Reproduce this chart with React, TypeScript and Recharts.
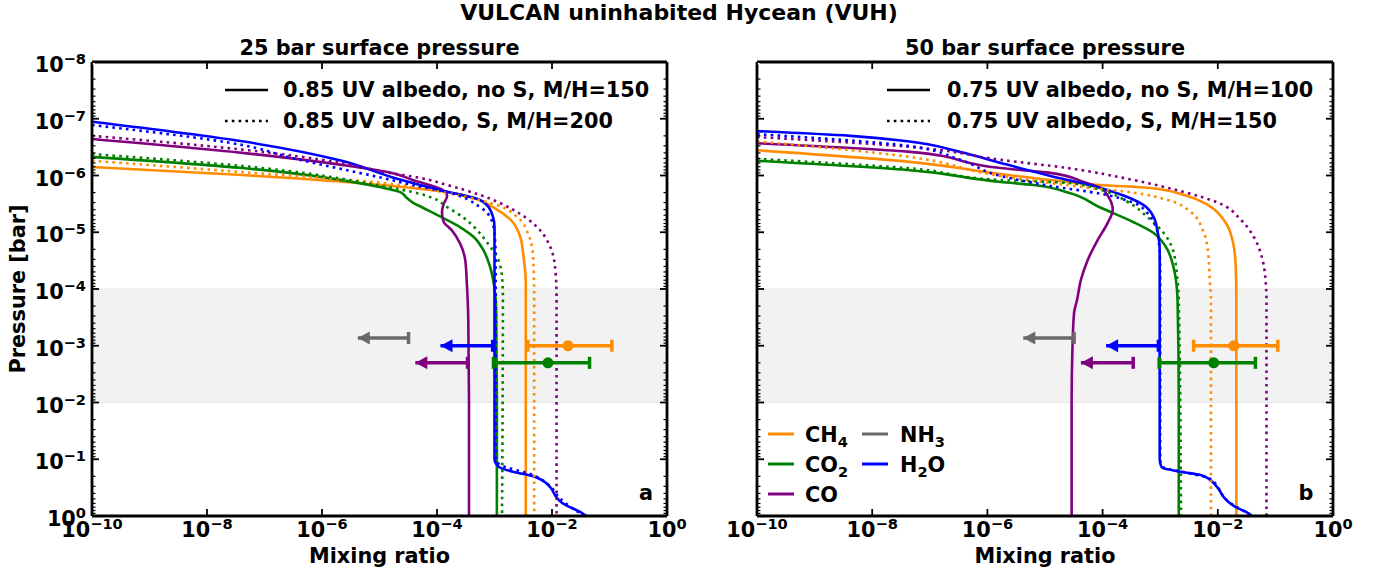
import React from 'react';
import { ComposedChart, Line, XAxis, YAxis, ReferenceArea } from 'recharts';

// each profile point is [mixing ratio, pressure in bar]
type Pt = [number, number];

const FONT = '"DejaVu Sans", sans-serif';
const ORANGE = '#ff8c00';
const GREEN = '#008000';
const PURPLE = '#800080';
const BLUE = '#0000ff';
const GRAY = '#696969';

const X_DOMAIN = [1e-10, 1];
const Y_DOMAIN = [1e-8, 1];
const X_TICKS = [1e-10, 1e-8, 1e-6, 1e-4, 1e-2, 1];
const Y_DECADES = [1e-8, 1e-7, 1e-6, 1e-5, 1e-4, 1e-3, 1e-2, 1e-1, 1];
const MINOR_STEPS = [2, 3, 4, 5, 6, 7, 8, 9];
const BAND = [1e-4, 1e-2];

// 25 bar surface: solid = 0.85 UV albedo, no S, M/H=150; dotted = with S, M/H=200
const CH4_25_NOS: Pt[] = [[1e-10, 7.1e-7], [4.1e-8, 9.8e-7], [1.1e-5, 1.47e-6], [3.8e-5, 1.66e-6], [1.5e-4, 1.96e-6], [4.3e-4, 2.5e-6], [9.4e-4, 3.6e-6], [1.9e-3, 6.0e-6], [2.8e-3, 1.2e-5], [3.2e-3, 2.7e-5], [3.5e-3, 7.8e-5], [3.5e-3, 1]];
const CH4_25_S: Pt[] = [[1e-10, 5.5e-7], [4.1e-8, 8.7e-7], [1.1e-5, 1.35e-6], [5.7e-5, 1.7e-6], [3.3e-4, 2.4e-6], [1.1e-3, 3.3e-6], [2.5e-3, 5.4e-6], [3.8e-3, 1.03e-5], [4.7e-3, 2.7e-5], [4.9e-3, 1.4e-4], [4.9e-3, 1]];
const CO2_25_NOS: Pt[] = [[1e-10, 4.7e-7], [4.1e-8, 7.4e-7], [1.0e-5, 1.6e-6], [2.3e-5, 1.96e-6], [3.0e-5, 2.5e-6], [3.8e-5, 3.0e-6], [5.7e-5, 3.7e-6], [1.27e-4, 5.6e-6], [2.5e-4, 8.1e-6], [4.3e-4, 1.2e-5], [6.3e-4, 2.0e-5], [8.4e-4, 4.1e-5], [9.8e-4, 8.5e-5], [1.07e-3, 2.3e-4], [1.1e-3, 9.1e-3], [1.1e-3, 1]];
const CO2_25_S: Pt[] = [[1e-10, 4.2e-7], [4.1e-8, 6.8e-7], [1.0e-5, 1.5e-6], [5.0e-5, 2.1e-6], [8.5e-5, 2.5e-6], [1.5e-4, 3.6e-6], [2.8e-4, 5.4e-6], [5.0e-4, 9.2e-6], [7.4e-4, 1.5e-5], [1.1e-3, 2.7e-5], [1.35e-3, 6.1e-5], [1.4e-3, 1.4e-4], [1.35e-3, 1]];
const CO_25_NOS: Pt[] = [[1e-10, 2.28e-7], [4.1e-8, 4.0e-7], [2.2e-6, 6.5e-7], [1.65e-5, 9.0e-7], [3.8e-5, 1.2e-6], [1.27e-4, 1.8e-6], [1.5e-4, 2.3e-6], [1.3e-4, 3.2e-6], [1.22e-4, 4.5e-6], [1.3e-4, 6.5e-6], [1.8e-4, 9.2e-6], [2.5e-4, 1.55e-5], [3.1e-4, 3.1e-5], [3.3e-4, 7.8e-5], [3.5e-4, 3.5e-4], [3.6e-4, 9.1e-3], [3.6e-4, 1]];
const CO_25_S: Pt[] = [[1e-10, 2.0e-7], [4.1e-8, 3.5e-7], [2.2e-6, 6.0e-7], [1.5e-5, 9.0e-7], [5.0e-5, 1.1e-6], [1.5e-4, 1.47e-6], [5.6e-4, 2.2e-6], [2.1e-3, 4.0e-6], [5.5e-3, 8.1e-6], [9.3e-3, 1.8e-5], [1.13e-2, 4.1e-5], [1.2e-2, 1.4e-4], [1.2e-2, 1]];
const H2O_25_NOS: Pt[] = [[1e-10, 1.13e-7], [4.1e-8, 2.5e-7], [2.2e-6, 5.5e-7], [1.65e-5, 1.07e-6], [1.12e-4, 1.8e-6], [5.6e-4, 2.7e-6], [8.4e-4, 4.0e-6], [1.0e-3, 8.1e-6], [1.0e-3, 2.0e-5], [1.0e-3, 0.1], [1.05e-3, 0.117], [1.25e-3, 0.14], [2.1e-3, 0.166], [4.7e-3, 0.2], [9.3e-3, 0.31], [1.13e-2, 0.43], [1.5e-2, 0.59], [2.0e-2, 0.69], [3.1e-2, 0.85], [3.7e-2, 0.96], [4.0e-2, 1]];
const H2O_25_S: Pt[] = [[1e-10, 1.29e-7], [4.1e-8, 2.9e-7], [3.0e-7, 4.9e-7], [1.1e-5, 1.1e-6], [3.8e-5, 1.47e-6], [1.5e-4, 1.96e-6], [5.6e-4, 3.6e-6], [8.4e-4, 5.4e-6], [1.0e-3, 1.03e-5], [1.05e-3, 3.1e-5], [1.05e-3, 0.1], [1.25e-3, 0.125], [4.7e-3, 0.19], [9.3e-3, 0.3], [1.4e-2, 0.5], [2.1e-2, 0.69], [3.7e-2, 1]];

// 50 bar surface: solid = 0.75 UV albedo, no S, M/H=100; dotted = with S, M/H=150
const CH4_50_NOS: Pt[] = [[1e-10, 3.6e-7], [4.1e-8, 5.7e-7], [1.7e-6, 9.4e-7], [2.5e-5, 1.3e-6], [9.3e-5, 1.47e-6], [6.8e-4, 1.66e-6], [2.6e-3, 2.2e-6], [6.7e-3, 3.3e-6], [1.26e-2, 6.0e-6], [1.8e-2, 1.37e-5], [2.05e-2, 4.1e-5], [2.1e-2, 1.56e-4], [2.1e-2, 1]];
const CH4_50_S: Pt[] = [[1e-10, 2.5e-7], [4.1e-8, 4.65e-7], [1.7e-6, 1.02e-6], [4.7e-5, 1.6e-6], [3.4e-4, 2.0e-6], [1.35e-3, 2.7e-6], [3.4e-3, 4.4e-6], [5.5e-3, 9.2e-6], [6.7e-3, 2.0e-5], [7.3e-3, 7.8e-5], [7.6e-3, 1.56e-4], [7.6e-3, 1]];
const CO2_50_NOS: Pt[] = [[1e-10, 5.5e-7], [4.1e-8, 8.0e-7], [1.7e-6, 1.3e-6], [6.3e-6, 1.47e-6], [2.5e-5, 2.0e-6], [9.3e-5, 3.7e-6], [3.4e-4, 6.6e-6], [7.7e-4, 1.03e-5], [1.25e-3, 1.8e-5], [1.7e-3, 4.1e-5], [2.0e-3, 1.56e-4], [2.1e-3, 9.1e-3], [2.1e-3, 1]];
const CO2_50_S: Pt[] = [[1e-10, 5.1e-7], [4.1e-8, 7.4e-7], [1.7e-6, 1.2e-6], [2.5e-5, 1.35e-6], [9.3e-5, 1.8e-6], [2.7e-4, 2.9e-6], [6.0e-4, 5.4e-6], [1.15e-3, 1.03e-5], [1.65e-3, 2.0e-5], [1.94e-3, 5.2e-5], [2.1e-3, 1.56e-4], [2.3e-3, 1]];
const CO_50_NOS: Pt[] = [[1e-10, 2.7e-7], [4.1e-8, 3.8e-7], [1.7e-6, 7.4e-7], [1.25e-5, 9.0e-7], [4.7e-5, 1.3e-6], [9.3e-5, 1.66e-6], [1.27e-4, 2.4e-6], [1.5e-4, 4.0e-6], [1.22e-4, 6.9e-6], [8.2e-5, 1.37e-5], [5.5e-5, 3.1e-5], [4.2e-5, 6.9e-5], [3.6e-5, 1.56e-4], [3.2e-5, 2.6e-4], [3.0e-5, 1.05e-3], [2.9e-5, 9.1e-3], [2.9e-5, 1]];
const CO_50_S: Pt[] = [[1e-10, 2.1e-7], [4.1e-8, 3.1e-7], [1.7e-6, 5.3e-7], [2.5e-5, 7.4e-7], [3.4e-4, 1.2e-6], [2.6e-3, 1.96e-6], [1.0e-2, 3.0e-6], [2.5e-2, 6.0e-6], [4.2e-2, 1.2e-5], [6.0e-2, 3.1e-5], [6.8e-2, 7.8e-5], [7.0e-2, 1.56e-4], [7.0e-2, 1]];
const H2O_50_NOS: Pt[] = [[1e-10, 1.65e-7], [4.2e-9, 2.0e-7], [4.1e-8, 2.5e-7], [3.4e-7, 3.85e-7], [1.7e-6, 6.0e-7], [1.25e-5, 1.02e-6], [9.3e-5, 1.66e-6], [2.7e-4, 2.4e-6], [5.1e-4, 3.3e-6], [7.7e-4, 5.4e-6], [9.1e-4, 1.03e-5], [9.8e-4, 2.0e-5], [9.8e-4, 0.1], [1.0e-3, 0.117], [1.07e-3, 0.14], [2.3e-3, 0.166], [5.0e-3, 0.19], [7.3e-3, 0.23], [1.0e-2, 0.32], [1.3e-2, 0.48], [2.0e-2, 0.69], [3.1e-2, 0.85], [3.9e-2, 1]];
const H2O_50_S: Pt[] = [[1e-10, 1.87e-7], [4.1e-8, 3.0e-7], [3.4e-7, 5.3e-7], [1.7e-6, 1.02e-6], [1.25e-5, 1.53e-6], [9.3e-5, 2.1e-6], [3.4e-4, 3.0e-6], [6.0e-4, 4.6e-6], [7.7e-4, 6.6e-6], [9.4e-4, 1.37e-5], [1.0e-3, 4.7e-5], [1.0e-3, 0.1], [1.1e-3, 0.135], [3.4e-3, 0.18], [7.3e-3, 0.22], [1.04e-2, 0.33], [1.35e-2, 0.5], [2.1e-2, 0.69], [3.3e-2, 0.89], [4.0e-2, 1]];

// retrievals: [low, median, high] mixing ratio, and upper limits: [limit, arrow end]
const CH4_OBS = [3.8e-3, 1.9e-2, 0.11];
const CO2_OBS = [9.6e-4, 8.5e-3, 4.5e-2];
const NH3_LIM = [3.2e-5, 4.2e-6];
const H2O_LIM = [9.3e-4, 1.15e-4];
const CO_LIM = [3.4e-4, 4.2e-5];
const P_NH3 = 7.3e-4;
const P_CH4_H2O = 1.0e-3;
const P_CO2_CO = 2.0e-3;

const rows = (pts: Pt[]) => pts.map(([x, p]) => ({ x, p }));

const Y_TICKS = Y_DECADES.flatMap((d) => (d >= 1 ? [d] : [d, ...MINOR_STEPS.map((m) => d * m)]));

const isDecade = (v: number) => Math.abs(Math.log10(v) - Math.round(Math.log10(v))) < 1e-6;

function PowTen({ x, y, exp, anchor }: { x: number; y: number; exp: number; anchor: 'start' | 'middle' | 'end' }) {
  return (
    <text x={x} y={y} textAnchor={anchor} fontFamily={FONT} fontWeight="bold" fontSize={20.8} fill="#000">
      <tspan>10</tspan>
      <tspan dy={-8} fontSize={14.6}>{exp < 0 ? `\u2212${-exp}` : `${exp}`}</tspan>
    </text>
  );
}

const xTick = (side: 'top' | 'bottom') => (props: any) => {
  const { x, y, payload } = props;
  const dir = side === 'bottom' ? -1 : 1;
  return (
    <g>
      <line x1={x} x2={x} y1={y} y2={y + dir * 7} stroke="#000" strokeWidth={1.8} />
      {side === 'bottom' && <PowTen x={x} y={y + 21} exp={Math.round(Math.log10(payload.value))} anchor="middle" />}
    </g>
  );
};

const yTick = (side: 'left' | 'right', labels: boolean) => (props: any) => {
  const { x, y, payload } = props;
  const major = isDecade(payload.value);
  const dir = side === 'left' ? 1 : -1;
  return (
    <g>
      <line x1={x} x2={x + dir * (major ? 7 : 3.5)} y1={y} y2={y} stroke="#000" strokeWidth={major ? 1.8 : 1.2} />
      {labels && major && <PowTen x={x - 6} y={y + 10} exp={Math.round(Math.log10(payload.value))} anchor="end" />}
    </g>
  );
};

// upper limit: bar cap at the limit, arrowhead at the far end
const limitDot = (color: string) => (props: any) => {
  const { cx, cy, index } = props;
  if (index === 0) {
    return <line key={`cap-${index}`} x1={cx} x2={cx} y1={cy - 6} y2={cy + 6} stroke={color} strokeWidth={3.5} />;
  }
  return <path key={`head-${index}`} d={`M${cx},${cy} L${cx + 12},${cy - 6.5} L${cx + 12},${cy + 6.5} Z`} fill={color} />;
};

// measured value with caps at both ends and a marker at the median
const errDot = (color: string) => (props: any) => {
  const { cx, cy, index } = props;
  if (index === 1) return <circle key={`mid-${index}`} cx={cx} cy={cy} r={5.5} fill={color} />;
  return <line key={`cap-${index}`} x1={cx} x2={cx} y1={cy - 6} y2={cy + 6} stroke={color} strokeWidth={3.5} />;
};

type Profile = { key: string; color: string; dotted: boolean; pts: Pt[] };

const PANEL_25: Profile[] = [
  { key: 'ch4', color: ORANGE, dotted: false, pts: CH4_25_NOS },
  { key: 'co2', color: GREEN, dotted: false, pts: CO2_25_NOS },
  { key: 'co', color: PURPLE, dotted: false, pts: CO_25_NOS },
  { key: 'h2o', color: BLUE, dotted: false, pts: H2O_25_NOS },
  { key: 'ch4s', color: ORANGE, dotted: true, pts: CH4_25_S },
  { key: 'co2s', color: GREEN, dotted: true, pts: CO2_25_S },
  { key: 'cos', color: PURPLE, dotted: true, pts: CO_25_S },
  { key: 'h2os', color: BLUE, dotted: true, pts: H2O_25_S },
];

const PANEL_50: Profile[] = [
  { key: 'ch4', color: ORANGE, dotted: false, pts: CH4_50_NOS },
  { key: 'co2', color: GREEN, dotted: false, pts: CO2_50_NOS },
  { key: 'co', color: PURPLE, dotted: false, pts: CO_50_NOS },
  { key: 'h2o', color: BLUE, dotted: false, pts: H2O_50_NOS },
  { key: 'ch4s', color: ORANGE, dotted: true, pts: CH4_50_S },
  { key: 'co2s', color: GREEN, dotted: true, pts: CO2_50_S },
  { key: 'cos', color: PURPLE, dotted: true, pts: CO_50_S },
  { key: 'h2os', color: BLUE, dotted: true, pts: H2O_50_S },
];

const FRAME = { stroke: '#000', strokeWidth: 2.8 };

// axes are 1px thick so recharts still draws them; margins absorb that pixel
function ProfilePanel({ profiles, margin, yLabels }: { profiles: Profile[]; margin: any; yLabels: boolean }) {
  const limits = [
    { key: 'nh3', color: GRAY, lim: NH3_LIM, p: P_NH3 },
    { key: 'h2o', color: BLUE, lim: H2O_LIM, p: P_CH4_H2O },
    { key: 'co', color: PURPLE, lim: CO_LIM, p: P_CO2_CO },
  ];
  const measured = [
    { key: 'ch4', color: ORANGE, obs: CH4_OBS, p: P_CH4_H2O },
    { key: 'co2', color: GREEN, obs: CO2_OBS, p: P_CO2_CO },
  ];
  return (
    <ComposedChart width={690} height={574} margin={margin}>
      <ReferenceArea y1={BAND[0]} y2={BAND[1]} fill="#f2f2f2" fillOpacity={1} stroke="#e6e6e6" strokeWidth={1} />
      <XAxis dataKey="x" type="number" scale="log" domain={X_DOMAIN} allowDataOverflow ticks={X_TICKS} interval={0}
        height={1} tickSize={0} tickMargin={0} tickLine={false} axisLine={FRAME} tick={xTick('bottom')} />
      <XAxis xAxisId="top" orientation="top" dataKey="x" type="number" scale="log" domain={X_DOMAIN} allowDataOverflow
        ticks={X_TICKS} interval={0} height={1} tickSize={0} tickMargin={0} tickLine={false} axisLine={FRAME} tick={xTick('top')} />
      <YAxis type="number" scale="log" domain={Y_DOMAIN} reversed allowDataOverflow ticks={Y_TICKS} interval={0}
        width={1} tickSize={0} tickMargin={0} tickLine={false} axisLine={FRAME} tick={yTick('left', yLabels)} />
      <YAxis yAxisId="right" orientation="right" type="number" scale="log" domain={Y_DOMAIN} reversed allowDataOverflow
        ticks={Y_TICKS} interval={0} width={1} tickSize={0} tickMargin={0} tickLine={false} axisLine={FRAME} tick={yTick('right', false)} />
      <Line xAxisId="top" yAxisId="right" data={rows([[X_DOMAIN[0], Y_DOMAIN[0]]])} dataKey="p" stroke="none" dot={false} isAnimationActive={false} />
      {profiles.map((pr) => (
        <Line key={pr.key} data={rows(pr.pts)} dataKey="p" type="monotoneY" stroke={pr.color} strokeWidth={2.6}
          strokeDasharray={pr.dotted ? '2.6 4.2' : undefined} dot={false} activeDot={false} isAnimationActive={false} />
      ))}
      {limits.map((l) => (
        <Line key={`lim-${l.key}`} data={rows([[l.lim[0], l.p], [l.lim[1], l.p]])} dataKey="p" type="linear"
          stroke={l.color} strokeWidth={3.5} dot={limitDot(l.color)} activeDot={false} isAnimationActive={false} />
      ))}
      {measured.map((m) => (
        <Line key={`obs-${m.key}`} data={rows([[m.obs[0], m.p], [m.obs[1], m.p], [m.obs[2], m.p]])} dataKey="p" type="linear"
          stroke={m.color} strokeWidth={3.5} dot={errDot(m.color)} activeDot={false} isAnimationActive={false} />
      ))}
    </ComposedChart>
  );
}

const TXT = { fontFamily: FONT, fontWeight: 'bold' as const, fill: '#000' };

function Chem({ x, y, base, sub, tail }: { x: number; y: number; base: string; sub?: string; tail?: string }) {
  return (
    <text x={x} y={y} fontSize={20.8} {...TXT}>
      <tspan>{base}</tspan>
      {sub && <tspan dy={5} fontSize={14.6}>{sub}</tspan>}
      {tail && <tspan dy={-5}>{tail}</tspan>}
    </text>
  );
}

export default function App() {
  return (
    <div style={{ position: 'absolute', left: 0, top: 0, width: 1380, height: 574, background: '#fff' }}>
      <style>{'.recharts-surface{overflow:visible}'}</style>
      <div style={{ position: 'absolute', left: 0, top: 0 }}>
        <ProfilePanel profiles={PANEL_25} margin={{ top: 61, bottom: 57, left: 91, right: 22 }} yLabels />
      </div>
      <div style={{ position: 'absolute', left: 690, top: 0 }}>
        <ProfilePanel profiles={PANEL_50} margin={{ top: 61, bottom: 57, left: 66, right: 46 }} yLabels={false} />
      </div>
      <svg width={1380} height={574} style={{ position: 'absolute', left: 0, top: 0, pointerEvents: 'none' }}>
        <text x={679} y={20} textAnchor="middle" fontSize={22} {...TXT}>VULCAN uninhabited Hycean (VUH)</text>
        <text x={379.5} y={55} textAnchor="middle" fontSize={20.8} {...TXT}>25 bar surface pressure</text>
        <text x={1045} y={55} textAnchor="middle" fontSize={20.8} {...TXT}>50 bar surface pressure</text>
        <text x={0} y={0} transform="translate(25,289) rotate(-90)" textAnchor="middle" fontSize={20.8} {...TXT}>Pressure [bar]</text>
        <text x={379.5} y={563} textAnchor="middle" fontSize={20.8} {...TXT}>Mixing ratio</text>
        <text x={1045} y={563} textAnchor="middle" fontSize={20.8} {...TXT}>Mixing ratio</text>
        <text x={646} y={500} textAnchor="middle" fontSize={20.8} {...TXT}>a</text>
        <text x={1306} y={500} textAnchor="middle" fontSize={20.8} {...TXT}>b</text>

        {/* run legends */}
        <line x1={225} x2={268} y1={90} y2={90} stroke="#000" strokeWidth={2.6} />
        <line x1={225} x2={268} y1={121} y2={121} stroke="#000" strokeWidth={2.6} strokeDasharray="2.6 4.2" />
        <text x={283} y={97} fontSize={20.8} {...TXT}>0.85 UV albedo, no S, M/H=150</text>
        <text x={283} y={128} fontSize={20.8} {...TXT}>0.85 UV albedo, S, M/H=200</text>
        <line x1={887} x2={930} y1={90} y2={90} stroke="#000" strokeWidth={2.6} />
        <line x1={887} x2={930} y1={121} y2={121} stroke="#000" strokeWidth={2.6} strokeDasharray="2.6 4.2" />
        <text x={947} y={97} fontSize={20.8} {...TXT}>0.75 UV albedo, no S, M/H=100</text>
        <text x={947} y={128} fontSize={20.8} {...TXT}>0.75 UV albedo, S, M/H=150</text>

        {/* species legend */}
        <line x1={768} x2={794} y1={434} y2={434} stroke={ORANGE} strokeWidth={3} />
        <Chem x={805} y={442} base="CH" sub="4" />
        <line x1={768} x2={794} y1={464} y2={464} stroke={GREEN} strokeWidth={3} />
        <Chem x={805} y={472} base="CO" sub="2" />
        <line x1={768} x2={794} y1={494} y2={494} stroke={PURPLE} strokeWidth={3} />
        <Chem x={805} y={502} base="CO" />
        <line x1={862} x2={888} y1={434} y2={434} stroke={GRAY} strokeWidth={3} />
        <Chem x={900} y={442} base="NH" sub="3" />
        <line x1={862} x2={888} y1={464} y2={464} stroke={BLUE} strokeWidth={3} />
        <Chem x={900} y={472} base="H" sub="2" tail="O" />
      </svg>
    </div>
  );
}
